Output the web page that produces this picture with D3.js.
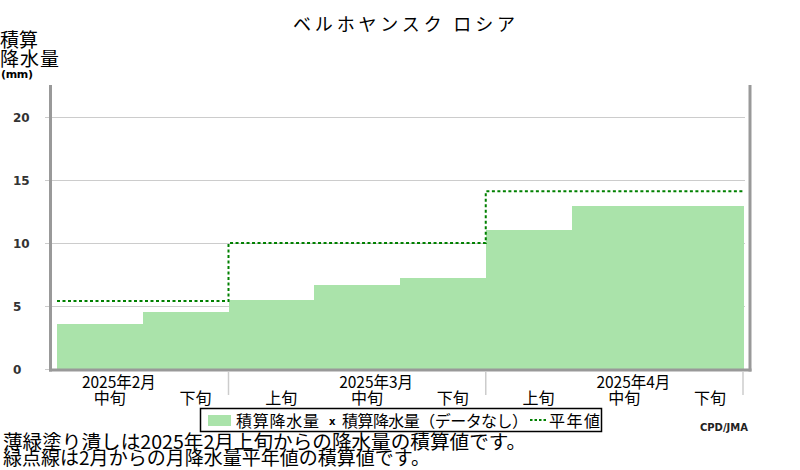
<!DOCTYPE html>
<html>
<head>
<meta charset="utf-8">
<script src="https://cdn.jsdelivr.net/npm/d3@7"></script>
<style>
  body { margin: 0; background: #fff; }
  text { font-family: "Noto Sans CJK JP", sans-serif; }
</style>
</head>
<body>
<svg></svg>
<script>
// dekads shown on the x axis and the month each one belongs to
let dekads = ['中旬', '下旬', '上旬', '中旬', '下旬', '上旬', '中旬', '下旬']
let dekadMonth = [0, 0, 1, 1, 1, 2, 2, 2]
let months = ['2025年2月', '2025年3月', '2025年4月']

// accumulated precipitation (mm) per dekad
let accum = [3.6, 4.5, 5.5, 6.7, 7.2, 11.0, 12.9, 12.9]
// accumulated monthly normals (mm)
let normals = [5.4, 10.0, 14.1]

let yTicks = [0, 5, 10, 15, 20]

let title = 'ベルホヤンスク ロシア'
let notes = [
  '薄緑塗り潰しは2025年2月上旬からの降水量の積算値です。',
  '緑点線は2月からの月降水量平年値の積算値です。'
]

let width = 800
let height = 470

let svg = d3.select('svg')
let xScale
let yScale

let drawCanvas = () => {
  svg.attr('width', width)
     .attr('height', height)
}

let generateScales = () => {
  xScale = d3.scaleLinear()
             .domain([0, dekads.length])
             .range([57, 743])

  yScale = d3.scaleLinear()
             .domain([0, 20])
             .range([369, 117])
}

let drawGrid = () => {
  let yAxis = d3.axisLeft(yScale)
                .tickValues(yTicks)
                .tickSize(-700)
                .tickFormat(d3.format('d'))

  let g = svg.append('g')
             .attr('id', 'y-axis')
             .attr('transform', 'translate(45, 0)')
             .call(yAxis)

  g.select('.domain').remove()
  g.selectAll('line')
   .attr('stroke', '#cccccc')
  g.selectAll('text')
   .attr('x', -32)
   .attr('dy', '0.4em')
   .attr('text-anchor', 'start')
   .attr('fill', '#333')
   .style('font-family', '"DejaVu Sans", sans-serif')
   .style('font-size', '12px')
   .style('font-weight', 'bold')
}

let drawBars = () => {
  svg.selectAll('rect.bar')
     .data(accum)
     .enter()
     .append('rect')
     .attr('class', 'bar')
     .attr('x', (d, i) => xScale(i))
     .attr('width', (d, i) => xScale(i + 1) - xScale(i) + 0.5)
     .attr('y', (d) => yScale(d))
     .attr('height', (d) => yScale(0) - yScale(d))
     .attr('fill', '#aae3aa')
     .attr('shape-rendering', 'crispEdges')
}

let drawNormals = () => {
  // step line: one level per month, starting at the first dekad of each month
  let pts = []
  months.forEach((m, mi) => {
    let first = dekadMonth.indexOf(mi)
    pts.push([first, normals[mi]])
  })
  pts.push([dekads.length, normals[normals.length - 1]])

  let line = d3.line()
               .x((d) => xScale(d[0]))
               .y((d) => yScale(d[1]))
               .curve(d3.curveStepAfter)

  svg.append('path')
     .attr('d', line(pts))
     .attr('fill', 'none')
     .attr('stroke', '#008000')
     .attr('stroke-width', 2)
     .attr('stroke-dasharray', '3,2.5')
}

let drawFrame = () => {
  let top = 85
  let base = yScale(0) + 1
  svg.append('line')
     .attr('x1', 50.5).attr('x2', 50.5)
     .attr('y1', top).attr('y2', base + 1.5)
     .attr('stroke', '#999').attr('stroke-width', 3)
  svg.append('line')
     .attr('x1', 750).attr('x2', 750)
     .attr('y1', top).attr('y2', base + 1.5)
     .attr('stroke', '#999').attr('stroke-width', 3)
  svg.append('line')
     .attr('x1', 49).attr('x2', 751.5)
     .attr('y1', base).attr('y2', base)
     .attr('stroke', '#999').attr('stroke-width', 3)
}

let drawXLabels = () => {
  // month boundaries
  let bounds = []
  dekadMonth.forEach((m, i) => {
    if (i > 0 && m !== dekadMonth[i - 1]) bounds.push(i)
  })
  bounds.push(dekads.length)

  svg.selectAll('line.sep')
     .data(bounds)
     .enter()
     .append('line')
     .attr('class', 'sep')
     .attr('x1', (d) => xScale(d)).attr('x2', (d) => xScale(d))
     .attr('y1', 372).attr('y2', 395)
     .attr('stroke', '#cccccc')
     .attr('stroke-width', 1.5)

  svg.selectAll('text.dekad')
     .data(dekads)
     .enter()
     .append('text')
     .attr('class', 'dekad')
     .attr('x', (d, i) => xScale(i + 0.5) + 10)
     .attr('y', 404)
     .attr('text-anchor', 'middle')
     .style('font-size', '16px')
     .text((d) => d)

  svg.selectAll('text.month')
     .data(months)
     .enter()
     .append('text')
     .attr('class', 'month')
     .attr('x', (d, mi) => {
       let idx = dekads.findIndex((k, i) => dekadMonth[i] === mi && k === '中旬')
       return xScale(idx + 0.5) + 19
     })
     .attr('y', 388)
     .attr('text-anchor', 'middle')
     .attr('textLength', 74)
     .attr('lengthAdjust', 'spacingAndGlyphs')
     .style('font-size', '16px')
     .text((d) => d)
}

let drawTexts = () => {
  svg.append('text')
     .attr('x', 404)
     .attr('y', 31)
     .attr('text-anchor', 'middle')
     .attr('textLength', 222)
     .attr('lengthAdjust', 'spacing')
     .style('font-size', '18px')
     .text(title)

  svg.append('text')
     .attr('x', 0).attr('y', 47)
     .attr('textLength', 38)
     .style('font-size', '19px')
     .text('積算')
  svg.append('text')
     .attr('x', 0).attr('y', 66)
     .attr('textLength', 59)
     .style('font-size', '19px')
     .text('降水量')
  svg.append('text')
     .attr('x', 1).attr('y', 78)
     .attr('textLength', 32)
     .style('font-family', '"DejaVu Sans", sans-serif')
     .style('font-size', '11px')
     .style('font-weight', 'bold')
     .text('(mm)')

  svg.selectAll('text.note')
     .data(notes)
     .enter()
     .append('text')
     .attr('class', 'note')
     .attr('x', 3)
     .attr('y', (d, i) => 449 + i * 16)
     .attr('textLength', (d, i) => i === 0 ? 523 : 427)
     .attr('lengthAdjust', 'spacingAndGlyphs')
     .style('font-size', '19px')
     .text((d) => d)

  svg.append('text')
     .attr('x', 748).attr('y', 431)
     .attr('text-anchor', 'end')
     .attr('fill', '#222')
     .style('font-family', '"DejaVu Sans", sans-serif')
     .style('font-size', '10px')
     .style('font-weight', 'bold')
     .text('CPD/JMA')
}

let drawLegend = () => {
  let lg = svg.append('g').attr('id', 'legend')
  lg.append('rect')
    .attr('x', 200.5).attr('y', 408.5)
    .attr('width', 401).attr('height', 23)
    .attr('fill', '#fff')
    .attr('stroke', '#000')
    .attr('stroke-width', 1.5)
  lg.append('rect')
    .attr('x', 208).attr('y', 415)
    .attr('width', 23).attr('height', 11)
    .attr('fill', '#aae3aa')
  lg.append('text')
    .attr('x', 236).attr('y', 427)
    .attr('textLength', 83)
    .style('font-size', '16px')
    .text('積算降水量')
  lg.append('text')
    .attr('x', 329).attr('y', 425)
    .style('font-family', '"DejaVu Sans", sans-serif')
    .style('font-size', '10px')
    .style('font-weight', 'bold')
    .text('x')
  lg.append('text')
    .attr('x', 342).attr('y', 427)
    .attr('textLength', 186)
    .style('font-size', '16px')
    .text('積算降水量（データなし）')
  lg.append('line')
    .attr('x1', 530).attr('x2', 546)
    .attr('y1', 420).attr('y2', 420)
    .attr('stroke', '#008000')
    .attr('stroke-width', 2)
    .attr('stroke-dasharray', '2.5,2')
  lg.append('text')
    .attr('x', 549).attr('y', 427)
    .attr('textLength', 51)
    .style('font-size', '16px')
    .text('平年値')
}

drawCanvas()
generateScales()
drawGrid()
drawBars()
drawNormals()
drawFrame()
drawXLabels()
drawLegend()
drawTexts()
</script>
</body>
</html>
